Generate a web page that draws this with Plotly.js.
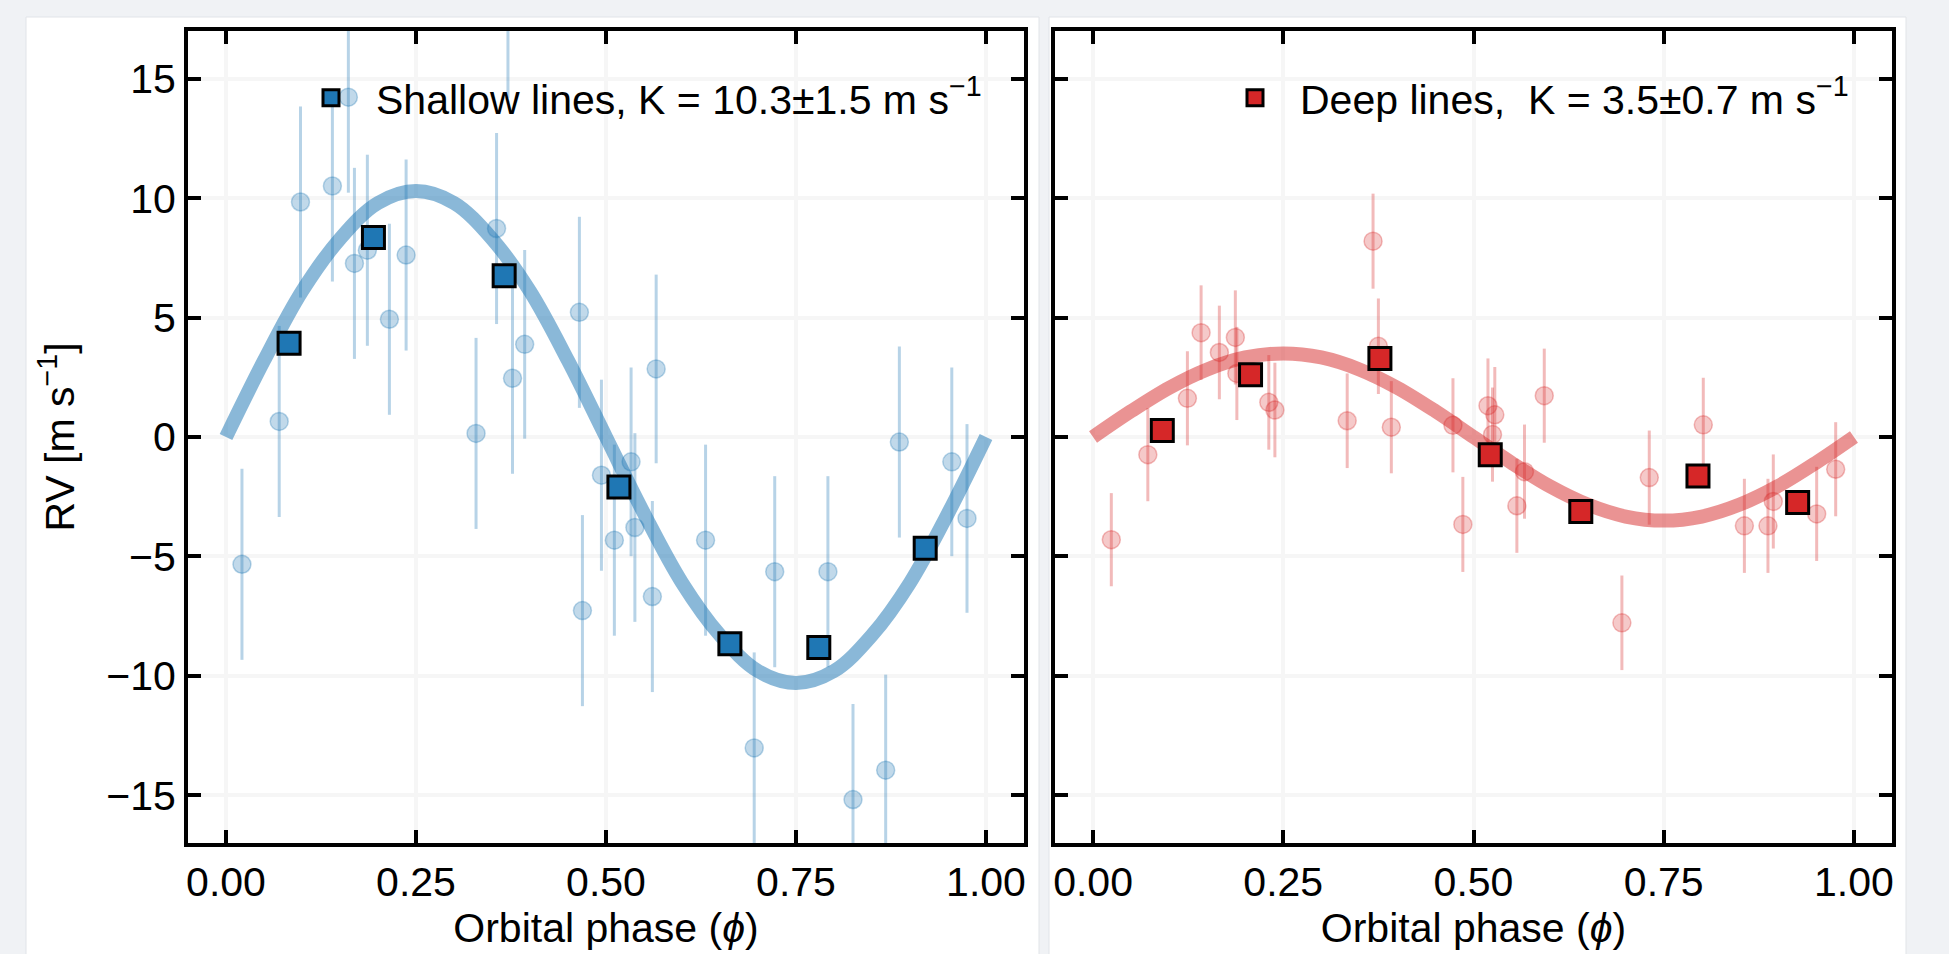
<!DOCTYPE html>
<html>
<head>
<meta charset="utf-8">
<script src="https://cdn.plot.ly/plotly-3.0.1.min.js"></script>
<style>
  html, body { margin: 0; padding: 0; background: #f0f2f5; }
  #chart { width: 1949px; height: 954px; }
</style>
</head>
<body>
<div id="chart"></div>
<script>
// ---------- data ----------
// Shallow lines: individual RV measurements (phase, RV, 1-sigma error)
const shallowPhase = [0.021, 0.070, 0.098, 0.140, 0.161, 0.169, 0.186, 0.215, 0.237, 0.329, 0.356, 0.371, 0.377, 0.393, 0.465, 0.469, 0.494, 0.511, 0.533, 0.538, 0.561, 0.566, 0.631, 0.695, 0.722, 0.792, 0.825, 0.868, 0.886, 0.955, 0.975];
const shallowRV    = [-5.33, 0.65, 9.84, 10.51, 14.23, 7.27, 7.82, 4.93, 7.62, 0.15, 8.73, 18.2, 2.46, 3.88, 5.22, -7.27, -1.60, -4.32, -1.04, -3.79, -6.68, 2.85, -4.32, -13.02, -5.64, -5.64, -15.18, -13.95, -0.21, -1.04, -3.41];
const shallowErr   = [4.0, 4.0, 4.0, 4.0, 4.0, 4.0, 4.0, 4.0, 4.0, 4.0, 4.0, 4.0, 4.0, 3.95, 4.0, 4.0, 4.0, 4.0, 3.95, 3.95, 4.0, 3.95, 4.0, 4.0, 4.0, 4.0, 4.0, 4.0, 4.0, 3.95, 3.95];
// Shallow lines: phase-binned averages
const shallowBinPhase = [0.083, 0.194, 0.366, 0.517, 0.663, 0.780, 0.920];
const shallowBinRV    = [3.93, 8.35, 6.75, -2.09, -8.66, -8.81, -4.66];

// Deep lines: individual RV measurements
const deepPhase = [0.024, 0.072, 0.124, 0.142, 0.166, 0.187, 0.189, 0.231, 0.239, 0.334, 0.368, 0.375, 0.392, 0.473, 0.486, 0.519, 0.525, 0.528, 0.557, 0.567, 0.593, 0.695, 0.731, 0.802, 0.856, 0.887, 0.894, 0.951, 0.976];
const deepRV    = [-4.30, -0.74, 1.62, 4.37, 3.54, 4.17, 2.66, 1.45, 1.13, 0.68, 8.20, 3.80, 0.41, 0.49, -3.66, 1.31, 0.10, 0.93, -2.88, -1.45, 1.73, -7.78, -1.70, 0.51, -3.72, -3.72, -2.70, -3.22, -1.35];
const deepErr   = [1.95, 1.95, 1.97, 1.98, 1.96, 1.97, 1.95, 1.98, 1.98, 1.98, 1.99, 2.0, 1.93, 1.97, 1.99, 1.98, 1.97, 2.0, 1.97, 1.97, 1.97, 1.98, 1.97, 1.97, 1.97, 1.97, 1.97, 1.97, 1.97];
// Deep lines: phase-binned averages
const deepBinPhase = [0.091, 0.207, 0.377, 0.522, 0.641, 0.795, 0.926];
const deepBinRV    = [0.27, 2.61, 3.29, -0.74, -3.12, -1.63, -2.74];

// Fitted orbit curves
const curvePhase   = [0, 0.05, 0.10, 0.15, 0.20, 0.25, 0.30, 0.35, 0.40, 0.45, 0.50, 0.55, 0.60, 0.65, 0.70, 0.75, 0.80, 0.85, 0.90, 0.95, 1.00];
const shallowCurve = [0, 3.2, 6.1, 8.3, 9.8, 10.3, 9.8, 8.3, 6.1, 3.2, 0, -3.2, -6.1, -8.3, -9.8, -10.3, -9.8, -8.3, -6.1, -3.2, 0];
const deepCurve    = [0, 1.08, 2.06, 2.83, 3.33, 3.5, 3.33, 2.83, 2.06, 1.08, 0, -1.08, -2.06, -2.83, -3.33, -3.5, -3.33, -2.83, -2.06, -1.08, 0];

// Labels
const shallowLabel = 'Shallow lines, K = 10.3\u00B11.5 m s<sup>\u22121</sup>';
const deepLabel    = 'Deep lines,\u00A0 K = 3.5\u00B10.7 m s<sup>\u22121</sup>';
const xTitle = 'Orbital phase (<i>\u03D5</i>)';
const yTitle = 'RV [m s<sup>\u22121</sup>]';

// ---------- styling ----------
const W = 1949, H = 954;
const FONT = 'Liberation Sans, Arial, Helvetica, sans-serif';
const FS = 41;
const BLUE = '#1f77b4', RED = '#d62728';

function px(x) { return x / W; }
function py(y) { return 1 - y / H; }

const traces = [
  { x: curvePhase, y: shallowCurve, mode: 'lines', line: { color: 'rgba(31,119,180,0.52)', width: 14, shape: 'spline' },
    xaxis: 'x', yaxis: 'y', showlegend: false, hoverinfo: 'skip' },
  { x: shallowPhase, y: shallowRV, mode: 'markers',
    error_y: { type: 'data', array: shallowErr, visible: true, color: 'rgba(31,119,180,0.32)', thickness: 3, width: 0 },
    marker: { symbol: 'circle', size: 18, color: 'rgba(31,119,180,0.28)', line: { color: 'rgba(31,119,180,0.3)', width: 1.5 } },
    xaxis: 'x', yaxis: 'y', showlegend: false },
  { x: shallowBinPhase, y: shallowBinRV, mode: 'markers', name: shallowLabel,
    marker: { symbol: 'square', size: 22, color: BLUE, line: { color: 'black', width: 3 } },
    xaxis: 'x', yaxis: 'y', legend: 'legend' },

  { x: curvePhase, y: deepCurve, mode: 'lines', line: { color: 'rgba(214,39,40,0.5)', width: 14, shape: 'spline' },
    xaxis: 'x2', yaxis: 'y2', showlegend: false, hoverinfo: 'skip' },
  { x: deepPhase, y: deepRV, mode: 'markers',
    error_y: { type: 'data', array: deepErr, visible: true, color: 'rgba(214,39,40,0.32)', thickness: 3, width: 0 },
    marker: { symbol: 'circle', size: 18, color: 'rgba(214,39,40,0.25)', line: { color: 'rgba(214,39,40,0.3)', width: 1.5 } },
    xaxis: 'x2', yaxis: 'y2', showlegend: false },
  { x: deepBinPhase, y: deepBinRV, mode: 'markers', name: deepLabel,
    marker: { symbol: 'square', size: 22, color: RED, line: { color: 'black', width: 3 } },
    xaxis: 'x2', yaxis: 'y2', legend: 'legend2' }
];

const commonX = {
  range: [-0.05, 1.05], tickmode: 'linear', tick0: 0, dtick: 0.25, tickformat: '.2f',
  ticks: 'inside', ticklen: 13, tickwidth: 4, tickcolor: 'black',
  showline: true, linewidth: 4, linecolor: 'black', mirror: 'ticks',
  showgrid: true, gridcolor: '#f6f6f6', gridwidth: 4, zeroline: false,
  tickfont: { family: FONT, size: FS, color: 'black' },
  title: { text: xTitle, font: { family: FONT, size: FS, color: 'black' }, standoff: 8 },
  fixedrange: true
};
const commonY = {
  range: [-17, 17], tickmode: 'linear', tick0: 0, dtick: 5,
  ticks: 'inside', ticklen: 13, tickwidth: 4, tickcolor: 'black',
  showline: true, linewidth: 4, linecolor: 'black', mirror: 'ticks',
  showgrid: true, gridcolor: '#f6f6f6', gridwidth: 4, zeroline: false,
  tickfont: { family: FONT, size: FS, color: 'black' },
  fixedrange: true
};

const yDom = [py(843), py(31)];

const layout = {
  width: W, height: H,
  margin: { l: 0, r: 0, t: 0, b: 0 },
  paper_bgcolor: '#f0f2f5',
  plot_bgcolor: '#e5e5e5',
  font: { family: FONT, size: FS, color: 'black' },
  xaxis: Object.assign({}, commonX, { domain: [px(188), px(1024)], anchor: 'y' }),
  yaxis: Object.assign({}, commonY, { domain: yDom, anchor: 'x',
    title: { text: yTitle, font: { family: FONT, size: FS, color: 'black' }, standoff: 20 } }),
  xaxis2: Object.assign({}, commonX, { domain: [px(1055), px(1892)], anchor: 'y2' }),
  yaxis2: Object.assign({}, commonY, { domain: yDom, anchor: 'x2', showticklabels: false }),
  legend: { x: px(286), y: py(98), xanchor: 'left', yanchor: 'middle', bgcolor: 'rgba(0,0,0,0)',
            font: { family: FONT, size: FS, color: 'black' }, itemwidth: 80, borderwidth: 0 },
  legend2: { x: px(1210), y: py(98), xanchor: 'left', yanchor: 'middle', bgcolor: 'rgba(0,0,0,0)',
             font: { family: FONT, size: FS, color: 'black' }, itemwidth: 80, borderwidth: 0 },
  shapes: [
    { type: 'rect', xref: 'paper', yref: 'paper', x0: px(26), x1: px(1039), y0: -0.1, y1: py(17),
      fillcolor: 'white', line: { color: '#e1e4e8', width: 1 }, layer: 'below' },
    { type: 'rect', xref: 'paper', yref: 'paper', x0: px(1049), x1: px(1906), y0: -0.1, y1: py(17),
      fillcolor: 'white', line: { color: '#e1e4e8', width: 1 }, layer: 'below' }
  ],
  hovermode: false
};

Plotly.newPlot('chart', traces, layout, { displayModeBar: false, staticPlot: true });
</script>
</body>
</html>
